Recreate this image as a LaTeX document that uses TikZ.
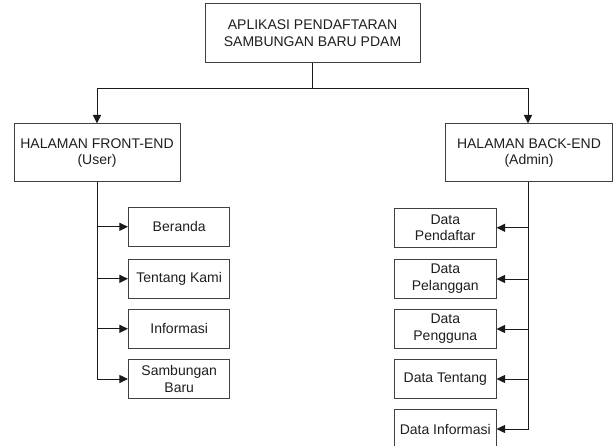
\documentclass[tikz,border=0pt]{standalone}
\usepackage{fontspec}
\setmainfont{Liberation Sans}
\usetikzlibrary{arrows.meta}
\definecolor{txt}{HTML}{1E1E1E}
\definecolor{bord}{HTML}{404040}
\definecolor{ln}{HTML}{1A1A1A}
\tikzset{
  box/.style={draw=bord, line width=1pt, text=txt, align=center, inner sep=0pt,
    font=\fontsize{14}{16.8}\selectfont},
  topbox/.style={box, minimum width=215pt, minimum height=59pt},
  midbox/.style={box, minimum width=166pt, minimum height=58pt},
  childbox/.style={box, minimum width=101.5pt, minimum height=39pt},
  conn/.style={draw=ln, line width=1pt},
  arr/.style={conn, -{Triangle[length=8.5pt,width=8pt]}}
}
\begin{document}
\begin{tikzpicture}[x=1pt,y=-1pt]
\useasboundingbox (0,0) rectangle (615,446);
\node[topbox] (top) at (312.5,33.5) {APLIKASI PENDAFTARAN\\SAMBUNGAN BARU PDAM};
\node[midbox] (left) at (97,153) {HALAMAN FRONT-END\\(User)};
\node[midbox, minimum width=167pt] (right) at (529,153) {HALAMAN BACK-END\\(Admin)};

\node[childbox] (c1) at (179.2,226.8) {Beranda};
\node[childbox] (c2) at (179.2,278.8) {Tentang Kami};
\node[childbox] (c3) at (179.2,328.8) {Informasi};
\node[childbox] (c4) at (179.2,379) {Sambungan\\Baru};

\node[childbox] (d1) at (445.3,227.8) {Data\\Pendaftar};
\node[childbox] (d2) at (445.3,279) {Data\\Pelanggan};
\node[childbox] (d3) at (445.3,329) {Data\\Pengguna};
\node[childbox] (d4) at (445.3,379) {Data Tentang};
\node[childbox] (d5) at (445.3,429) {Data Informasi};

\draw[conn] (top.south) -- ++(0,25) coordinate (split);
\draw[arr] (split) -| (left.north);
\draw[arr] (split) -| ([xshift=-1pt]right.north);

\draw[arr] (left.south) |- (c4.west);
\draw[arr] (left.south |- c1.west) -- (c1.west);
\draw[arr] (left.south |- c2.west) -- (c2.west);
\draw[arr] (left.south |- c3.west) -- (c3.west);

\draw[arr] ([xshift=-1pt]right.south) |- (d5.east);
\draw[arr] ([xshift=-1pt]right.south |- d1.east) -- (d1.east);
\draw[arr] ([xshift=-1pt]right.south |- d2.east) -- (d2.east);
\draw[arr] ([xshift=-1pt]right.south |- d3.east) -- (d3.east);
\draw[arr] ([xshift=-1pt]right.south |- d4.east) -- (d4.east);
\end{tikzpicture}
\end{document}
